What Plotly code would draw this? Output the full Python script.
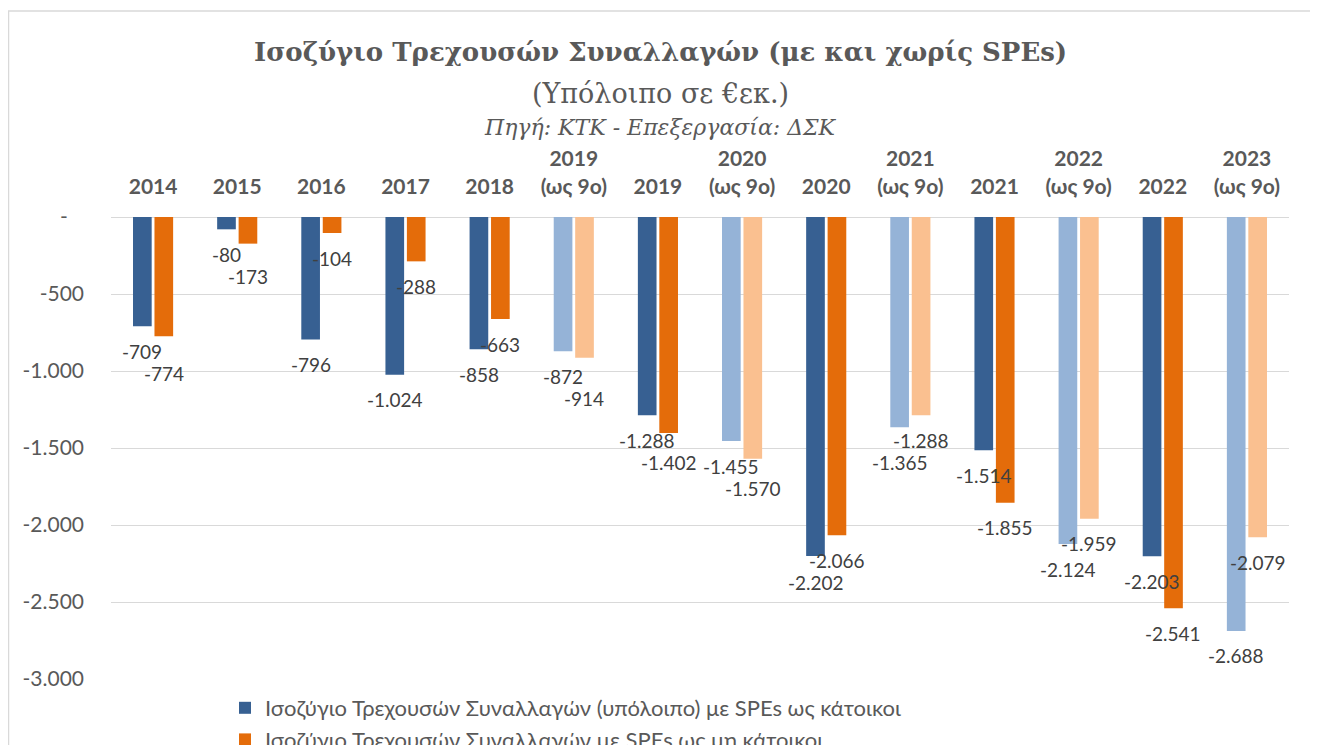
import plotly.graph_objects as go

categories = ["2014", "2015", "2016", "2017", "2018", "2019<br>(ως 9ο)", "2019",
              "2020<br>(ως 9ο)", "2020", "2021<br>(ως 9ο)", "2021", "2022<br>(ως 9ο)",
              "2022", "2023<br>(ως 9ο)"]
partial_year = [False, False, False, False, False, True, False, True, False, True, False, True, False, True]
spe_resident = [-709, -80, -796, -1024, -858, -872, -1288, -1455, -2202, -1365, -1514, -2124, -2203, -2688]
spe_nonresident = [-774, -173, -104, -288, -663, -914, -1402, -1570, -2066, -1288, -1855, -1959, -2541, -2079]
series_names = ["Ισοζύγιο Τρεχουσών Συναλλαγών (υπόλοιπο) με SPEs ως κάτοικοι",
                "Ισοζύγιο Τρεχουσών Συναλλαγών με SPEs ως μη κάτοικοι"]
y_tickvals = [0, -500, -1000, -1500, -2000, -2500, -3000]
y_ticktext = ["-\u00a0\u00a0\u00a0", "-500", "-1.000", "-1.500", "-2.000", "-2.500", "-3.000"]

title_main = "Ισοζύγιο Τρεχουσών Συναλλαγών (με και χωρίς SPEs)"
title_sub = "(Υπόλοιπο σε €εκ.)"
title_src = "Πηγή: ΚΤΚ - Επεξεργασία: ΔΣΚ"

# page offset of the figure (default body margin of the html page)
OFF = 8
W, H = 1310, 737
ML, MR, MT, MB = 103, 29, 209, 66
PW, PH = W - ML - MR, H - MT - MB
Y_MIN, Y_MAX = -3000, 0


def py(p):
    """page pixel y -> paper y"""
    return (H - MB - (p - OFF)) / PH


def px(p):
    """page pixel x -> paper x"""
    return ((p - OFF) - ML) / PW


DARK = ["#376092", "#E46C0A"]
LIGHT = ["#95B3D7", "#FAC090"]

fig = go.Figure()
for i, vals in enumerate([spe_resident, spe_nonresident]):
    colors = [LIGHT[i] if p else DARK[i] for p in partial_year]
    fig.add_trace(go.Bar(
        x=categories, y=vals, name=series_names[i],
        marker=dict(color=colors, line=dict(width=0)),
        hoverinfo="x+y",
    ))


def fmt(v):
    s = f"{abs(v):,}".replace(",", ".")
    return ("-" if v < 0 else "") + s


# data labels below bar ends; when the two labels of a group would collide,
# the lower one is pushed further down (as the spreadsheet did)
scale = PH / (Y_MAX - Y_MIN)
LABEL_GAP, MIN_SEP = 25, 22
for k in range(len(categories)):
    vals = [spe_resident[k], spe_nonresident[k]]
    depth = [-v * scale for v in vals]
    centers = [d + LABEL_GAP for d in depth]
    lo = 0 if centers[0] > centers[1] else 1
    hi = 1 - lo
    if centers[lo] - centers[hi] < MIN_SEP:
        centers[lo] = centers[hi] + MIN_SEP
    for i in range(2):
        fig.add_annotation(x=k, y=vals[i], text=fmt(vals[i]), showarrow=False,
                           xshift=(-10.7 if i == 0 else 10.7),
                           yshift=-(centers[i] - depth[i]), yanchor="middle",
                           font=dict(family="Lato", size=19, color="#404040"))

# titles
CX = px(660)
fig.add_annotation(xref="paper", yref="paper", x=CX, y=py(52), text="<b>" + title_main + "</b>",
                   showarrow=False, xanchor="center", yanchor="middle",
                   font=dict(family="DejaVu Serif", size=26, color="#595959"))
fig.add_annotation(xref="paper", yref="paper", x=CX, y=py(93), text=title_sub,
                   showarrow=False, xanchor="center", yanchor="middle",
                   font=dict(family="DejaVu Serif", size=27, color="#595959"))
fig.add_annotation(xref="paper", yref="paper", x=CX, y=py(128), text="<i>" + title_src + "</i>",
                   showarrow=False, xanchor="center", yanchor="middle",
                   font=dict(family="DejaVu Serif", size=22, color="#595959"))

# outer frame
fig.add_shape(type="rect", xref="paper", yref="paper", layer="below",
              x0=px(OFF + 0.5), x1=px(1316), y0=py(770), y1=py(11),
              line=dict(color="#D9D9D9", width=1.5), fillcolor="rgba(0,0,0,0)")

fig.update_layout(
    width=W, height=H,
    margin=dict(l=ML, r=MR, t=MT, b=MB, autoexpand=False),
    paper_bgcolor="white", plot_bgcolor="white",
    barmode="group", bargap=0.49, bargroupgap=0.13,
    separators=",.",
    font=dict(family="Lato", color="#595959"),
    showlegend=True,
    legend=dict(orientation="v", xref="paper", yref="container",
                x=px(225), xanchor="left", y=1 - (687 - OFF) / H, yanchor="top",
                font=dict(family="Lato", size=22, color="#595959"),
                bgcolor="rgba(0,0,0,0)", itemwidth=30, tracegroupgap=0),
    xaxis=dict(side="top", type="category", range=[-0.5, len(categories) - 0.5],
               showgrid=False, showline=False, ticks="",
               tickfont=dict(family="Lato", size=21, color="#595959", weight="bold"),
               ticklabelstandoff=18, fixedrange=True),
    yaxis=dict(range=[Y_MIN, Y_MAX], tickvals=y_tickvals, ticktext=y_ticktext,
               showgrid=True, gridcolor="#D9D9D9", gridwidth=1.3,
               zeroline=True, zerolinecolor="#D9D9D9", zerolinewidth=1.3,
               showline=False, ticks="", ticklabelstandoff=26,
               tickfont=dict(family="Lato", size=21, color="#595959"), fixedrange=True),
)

fig.write_html("out.html")
